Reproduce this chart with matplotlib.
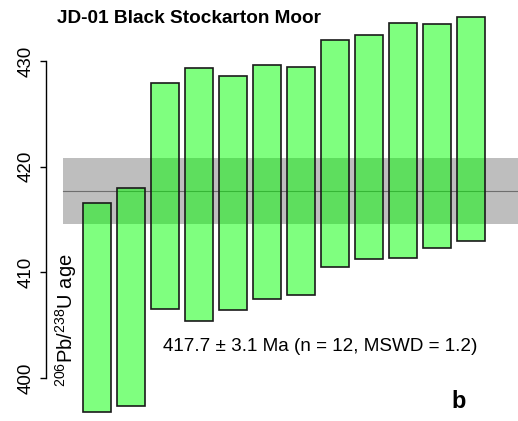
import matplotlib
matplotlib.use("Agg")
import matplotlib.pyplot as plt

# 206Pb/238U ages of the zircon analyses, shown as error bars (lower/upper limits, Ma)
lower = [396.8, 397.4, 406.5, 405.4, 406.4, 407.5, 407.9, 410.5, 411.3, 411.4, 412.3, 413.0]
upper = [416.6, 418.0, 427.9, 429.3, 428.6, 429.6, 429.4, 432.0, 432.5, 433.6, 433.5, 434.2]

# weighted mean age and its uncertainty
mean_age = 417.7
mean_err = 3.1
n_grains = 12
mswd = 1.2

yticks = [400, 410, 420, 430]

plt.rcParams['font.family'] = ['Liberation Sans', 'DejaVu Sans']
plt.rcParams['mathtext.fontset'] = 'custom'
plt.rcParams['mathtext.rm'] = 'Liberation Sans'
plt.rcParams['mathtext.default'] = 'regular'

fig = plt.figure(figsize=(5.18, 4.21), dpi=100)
ax = fig.add_axes([0, 0, 1, 1])

x = list(range(1, len(lower) + 1))
xmax = 13.39

# mean age band and line
ax.fill_between([0, xmax], mean_age - mean_err, mean_age + mean_err,
                color='#bebebe', lw=0, zorder=1)
ax.plot([0, xmax], [mean_age, mean_age], color='#6e6e6e', lw=0.8, zorder=2)

heights = [u - l for l, u in zip(lower, upper)]
ax.bar(x, heights, bottom=lower, width=0.82, color=(0, 1, 0, 0.5),
       edgecolor='#1a1a1a', linewidth=1.2, zorder=3)

ax.set_xlim(-1.855, xmax)
ax.set_ylim(395.94, 435.77)

# R-style left axis only
for side in ['top', 'right', 'bottom']:
    ax.spines[side].set_visible(False)
ax.spines['left'].set_position(('data', -0.5))
ax.spines['left'].set_bounds(400, 430)
ax.spines['left'].set_linewidth(1.0)
ax.set_xticks([])
ax.set_yticks(yticks)
ax.tick_params(axis='y', length=4.5, width=1.0, pad=3.5, labelsize=13.5)
for lab in ax.get_yticklabels():
    lab.set_rotation(90)
    lab.set_va('center')

ax.text(0.1, 405.45, r'$^{206}$Pb/$^{238}$U age', rotation=90,
        ha='center', va='center', fontsize=14.5)

ax.text(-0.18, 434.0, 'JD-01 Black Stockarton Moor', fontsize=13.7,
        fontweight='bold', ha='left', va='center')

ax.text(2.94, 403.0,
        f'{mean_age} ± {mean_err} Ma (n = {n_grains}, MSWD = {mswd})',
        fontsize=13.6, ha='left', va='center')

ax.text(11.63, 397.8, 'b', fontsize=17, fontweight='bold',
        ha='center', va='center')

fig.savefig('out.png', dpi=100)
